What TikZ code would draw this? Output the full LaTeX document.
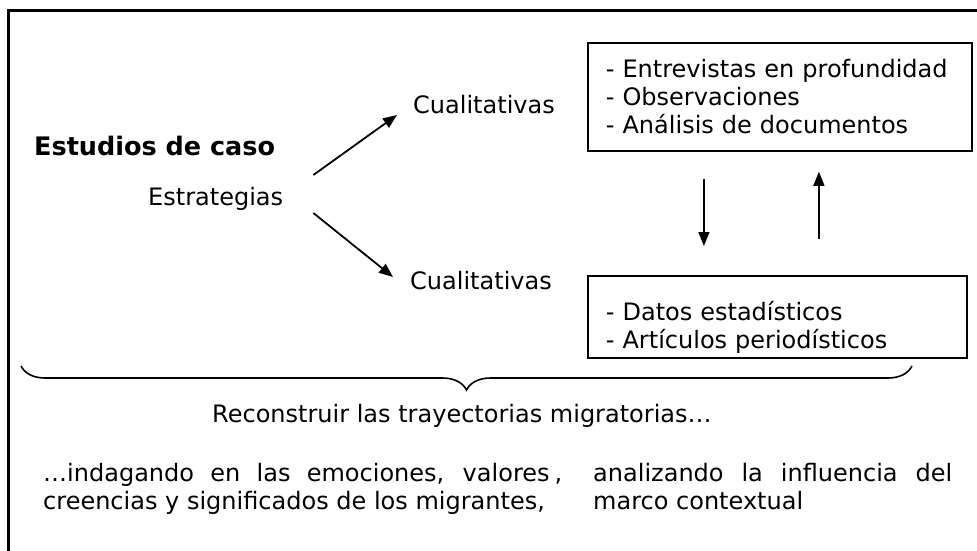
\documentclass[tikz,border=0pt]{standalone}
\usepackage{fontspec}
\setmainfont{DejaVu Sans}
\usetikzlibrary{positioning,calc,arrows.meta,decorations.pathreplacing}

\begin{document}
\begin{tikzpicture}[x=1pt,y=-1pt,
    txt/.style={inner sep=0pt,font=\fontsize{24}{28}\selectfont},
    caja/.style={draw,line width=1.8pt,inner xsep=18pt,inner ysep=0pt,align=left,anchor=north west,font=\fontsize{24}{28}\selectfont},
    flecha/.style={-{Triangle[length=14pt,width=11pt]},line width=1.8pt},
    parr/.style={txt,align=justify,anchor=north west}]
    \clip (0,0) rectangle (977,551);
    % Marco
    \draw[line width=2.5pt] (8.5,10.5) rectangle (1000,600);

    % Estrategias
    \node[txt,anchor=west,font=\fontsize{25.5}{28}\selectfont\bfseries] (caso) at (34,146) {Estudios de caso};
    \node[txt,anchor=west] (est) at (148,199) {Estrategias};
    \node[txt,anchor=west] (cualA) at (413,105) {Cualitativas};
    \node[txt,anchor=west] (cualB) at (410,281) {Cualitativas};

    % Cajas
    \node[caja,text width=348pt,minimum height=108pt] (ent) at (587,42) {- Entrevistas en profundidad\\- Observaciones\\- Análisis de documentos};
    \node[caja,text width=343pt,minimum height=82pt] (dat) at (587,275) {\rule{0pt}{40pt}- Datos estadísticos\\- Artículos periodísticos};

    % Flechas
    \draw[flecha] ($(est.east)+(30,-24)$) -- ($(cualA.west)+(-16,10)$);
    \draw[flecha] ($(est.east)+(30,14)$) -- ($(cualB.west)+(-17,-4)$);
    \draw[flecha,line width=1.4pt] ($(ent.south)+(-76,27)$) -- ($(dat.north)+(-73.5,-29)$);
    \draw[flecha,line width=1.4pt] ($(dat.north)+(41.5,-36)$) -- ($(ent.south)+(39,20)$);

    % Llave
    \coordinate (llaveA) at (21,366);
    \coordinate (llaveB) at (912,366);
    \draw[line width=1.6pt,decorate,decoration={brace,mirror,amplitude=24pt}] (llaveA) -- (llaveB);

    % Textos inferiores
    \node[txt,anchor=west] (rec) at (212,416) {Reconstruir las trayectorias migratorias…};
    \node[parr,text width=519pt] (emo) at (43,463) {\hyphenpenalty=10000 …indagando en las emociones, valores\hspace{5pt},\linebreak creencias y significados de los migrantes,};
    \node[parr,text width=359pt] (ctx) at (593,463) {\hyphenpenalty=10000 analizando la influencia del\linebreak marco contextual};
\end{tikzpicture}
\end{document}
